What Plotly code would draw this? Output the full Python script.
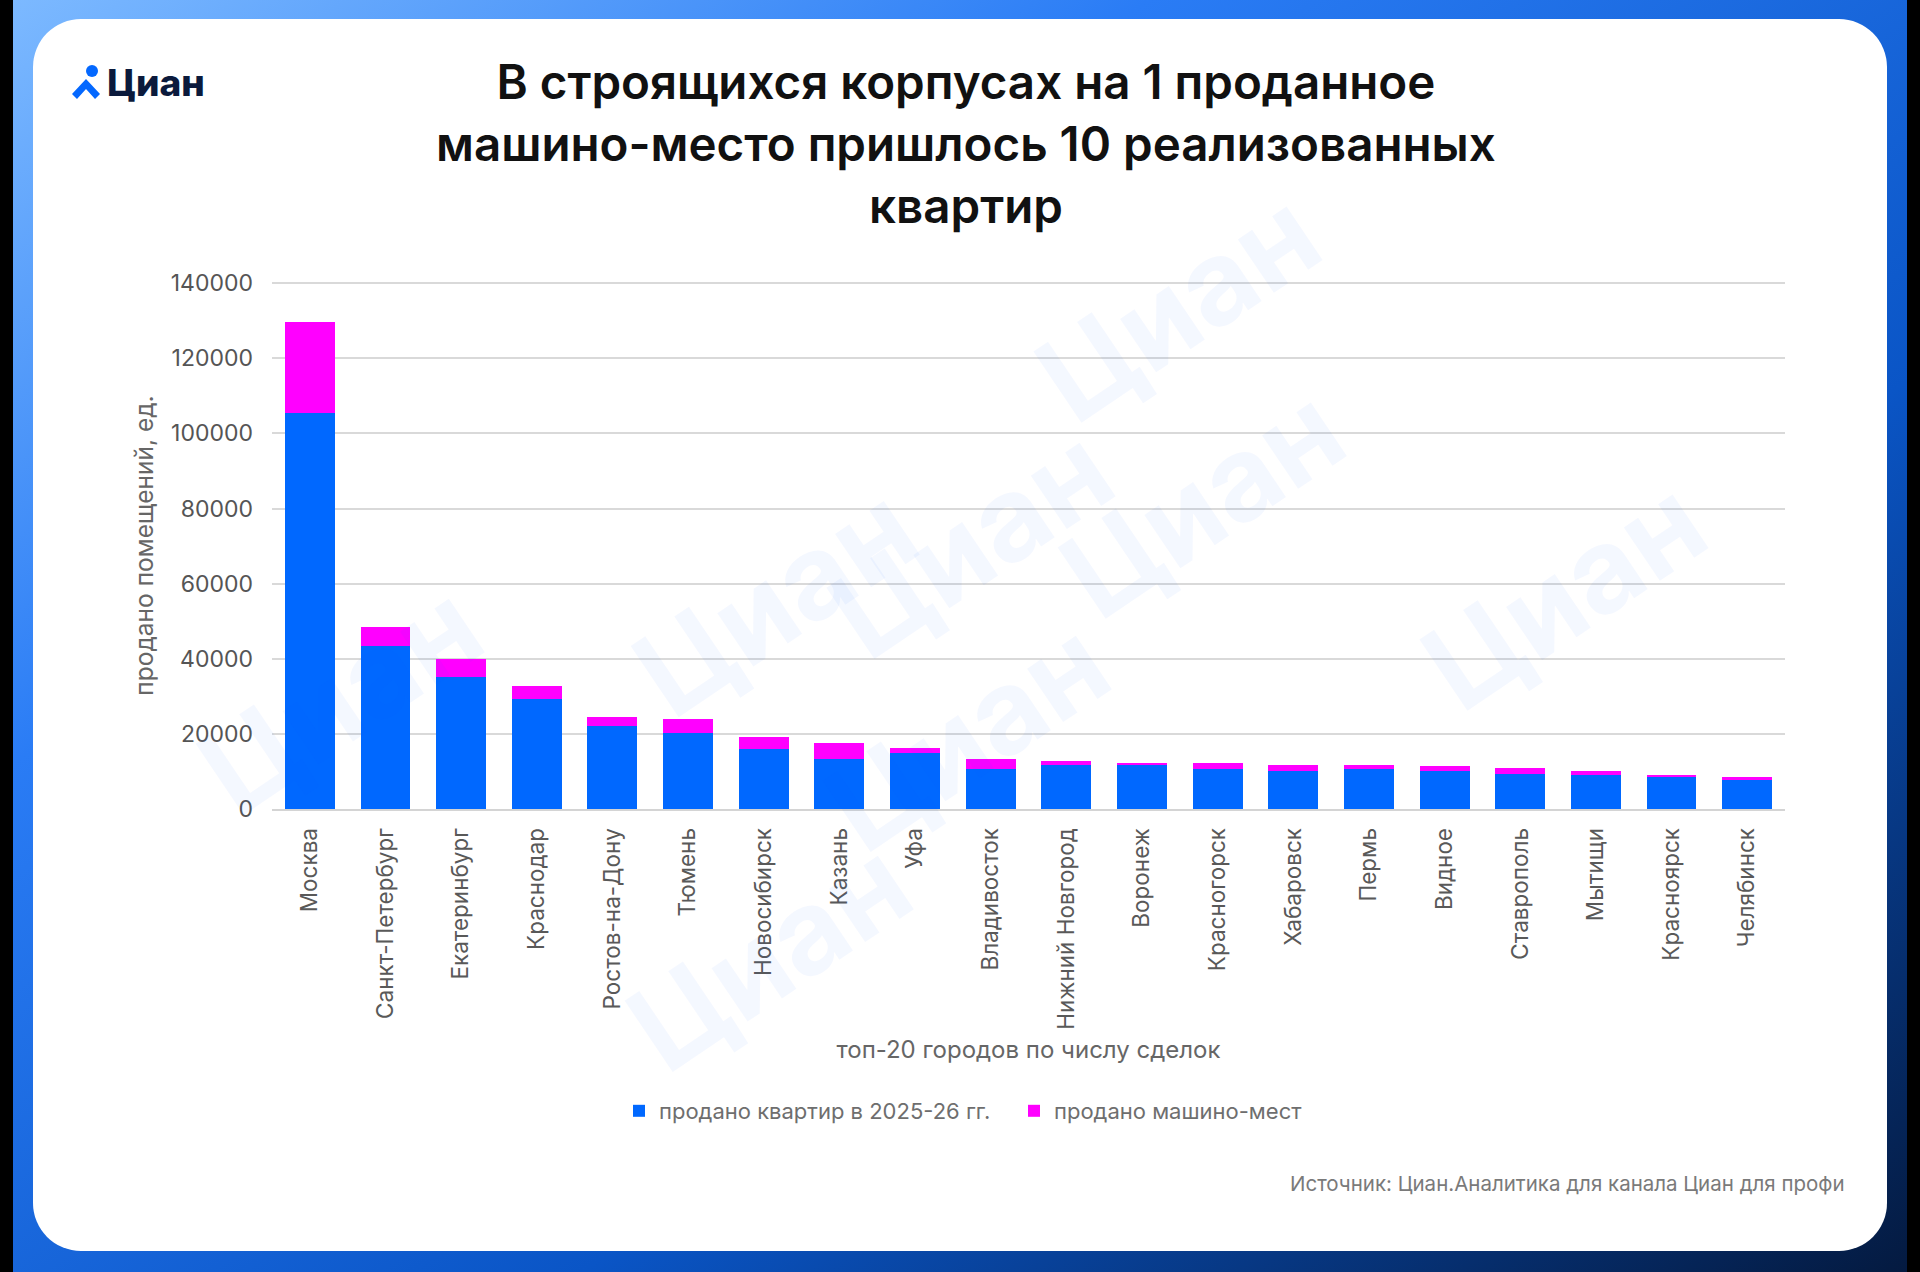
import base64
import plotly.graph_objects as go

cities = ["Москва", "Санкт-Петербург", "Екатеринбург", "Краснодар", "Ростов-на-Дону",
          "Тюмень", "Новосибирск", "Казань", "Уфа", "Владивосток", "Нижний Новгород",
          "Воронеж", "Красногорск", "Хабаровск", "Пермь", "Видное", "Ставрополь",
          "Мытищи", "Красноярск", "Челябинск"]
flats = [105400, 43500, 35100, 29300, 22000, 20300, 16100, 13200, 14900, 10700,
         11800, 11600, 10700, 10100, 10700, 10000, 9200, 9000, 8400, 7700]
parking = [24300, 4900, 4800, 3400, 2500, 3600, 3100, 4300, 1300, 2600,
           1000, 600, 1500, 1500, 900, 1400, 1800, 1100, 700, 800]
yticks = [0, 20000, 40000, 60000, 80000, 100000, 120000, 140000]

W, H = 1920, 1272
L, R, T, B = 272, 135, 282, 463
PW, PH = W - L - R, H - T - B


def px(x, y):
    # pixel position on the page -> paper coords
    return (x - L) / PW, (H - B - y) / PH


bg_svg = f"""<svg xmlns='http://www.w3.org/2000/svg' width='{W}' height='{H}'>
<defs><linearGradient id='g' x1='0' y1='0' x2='1' y2='1'>
<stop offset='0' stop-color='#7cb9ff'/><stop offset='0.3' stop-color='#2a7cf5'/>
<stop offset='0.65' stop-color='#0a55c6'/><stop offset='1' stop-color='#041a40'/>
</linearGradient></defs>
<rect width='{W}' height='{H}' fill='#000'/>
<rect x='13' y='0' width='{W - 26}' height='{H}' fill='url(#g)'/>
<rect x='33' y='19' width='{W - 66}' height='{H - 40}' rx='48' fill='#fff'/>
<circle cx='92' cy='71' r='6' fill='#0468ff'/>
<path d='M72 94 L86 79 L100 94 L95 99 L86 89 L77 99 Z' fill='#0468ff'/>
</svg>"""
bg_src = "data:image/svg+xml;base64," + base64.b64encode(bg_svg.encode()).decode()

fig = go.Figure()
fig.add_trace(go.Bar(x=cities, y=flats, name="продано квартир в 2025-26 гг.",
                     marker=dict(color="#0068ff", line=dict(width=0))))
fig.add_trace(go.Bar(x=cities, y=parking, name="продано машино-мест",
                     marker=dict(color="#ff00ff", line=dict(width=0))))

x0, y0 = px(0, 0)
images = [dict(source=bg_src, xref="paper", yref="paper", x=x0, y=y0,
               sizex=W / PW, sizey=H / PH, xanchor="left", yanchor="top",
               sizing="stretch", layer="below")]

annotations = []
# faint watermarks
for wx, wy in [(1347, 159), (971, 395), (606, 600), (171, 845), (1371, 649),
               (1733, 447), (967, 882), (600, 1102)]:
    ax, ay = px(wx, wy)
    annotations.append(dict(text="<b>Циан</b>", x=ax, y=ay, xref="paper", yref="paper",
                            showarrow=False, textangle=-34,
                            font=dict(family="Inter", size=118, color="rgba(0,104,255,0.045)")))

lx, ly = px(105, 83)
annotations.append(dict(text="Циан", x=lx, y=ly, xref="paper", yref="paper",
                        xanchor="left", yanchor="middle", showarrow=False,
                        font=dict(family="Inter", size=37, color="#0b1a3c", weight=800)))
tx, ty = px(966, 144)
annotations.append(dict(text="В строящихся корпусах на 1 проданное<br>машино-место пришлось 10 реализованных<br>квартир",
                        x=tx, y=ty, xref="paper", yref="paper", showarrow=False,
                        xanchor="center", yanchor="middle", align="center",
                        font=dict(family="Inter", size=47.5, color="#111111", weight=600)))
sx, sy = px(1847, 1183)
annotations.append(dict(text="Источник: Циан.Аналитика для канала Циан для профи",
                        x=sx, y=sy, xref="paper", yref="paper", showarrow=False,
                        xanchor="right", yanchor="middle",
                        font=dict(family="Inter", size=20.5, color="#7a7a7a")))

legx, legy = px(619, 1111)
fig.update_layout(
    width=W, height=H,
    margin=dict(l=L, r=R, t=T, b=B, pad=0),
    barmode="stack", bargap=0.34,
    paper_bgcolor="#ffffff", plot_bgcolor="rgba(0,0,0,0)",
    font=dict(family="Inter", color="#595959"),
    images=images, annotations=annotations,
    showlegend=True,
    legend=dict(orientation="h", x=legx, y=legy, xanchor="left", yanchor="middle",
                font=dict(size=22, color="#6e6e6e"), bgcolor="rgba(0,0,0,0)",
                traceorder="normal", entrywidth=350, itemwidth=30),
    xaxis=dict(tickangle=-90, tickfont=dict(size=22.5, color="#595959"),
               showgrid=False, showline=True, linecolor="#d4d4d4", linewidth=2,
               ticklabelstandoff=8,
               title=dict(text="топ-20 городов по числу сделок", standoff=12,
                          font=dict(size=24, color="#666666"))),
    yaxis=dict(range=[0, 140300], tickvals=yticks, ticktext=[str(v) for v in yticks],
               tickfont=dict(size=23, color="#555555"), showgrid=True,
               gridcolor="#d9d9d9", gridwidth=2, zeroline=False, ticklabelstandoff=18,
               title=dict(text="продано помещений, ед.", standoff=10,
                          font=dict(size=24.5, color="#666666"))),
)

fig.write_html("out.html", config={"displayModeBar": False},
               post_script="document.body.style.margin='0';")
